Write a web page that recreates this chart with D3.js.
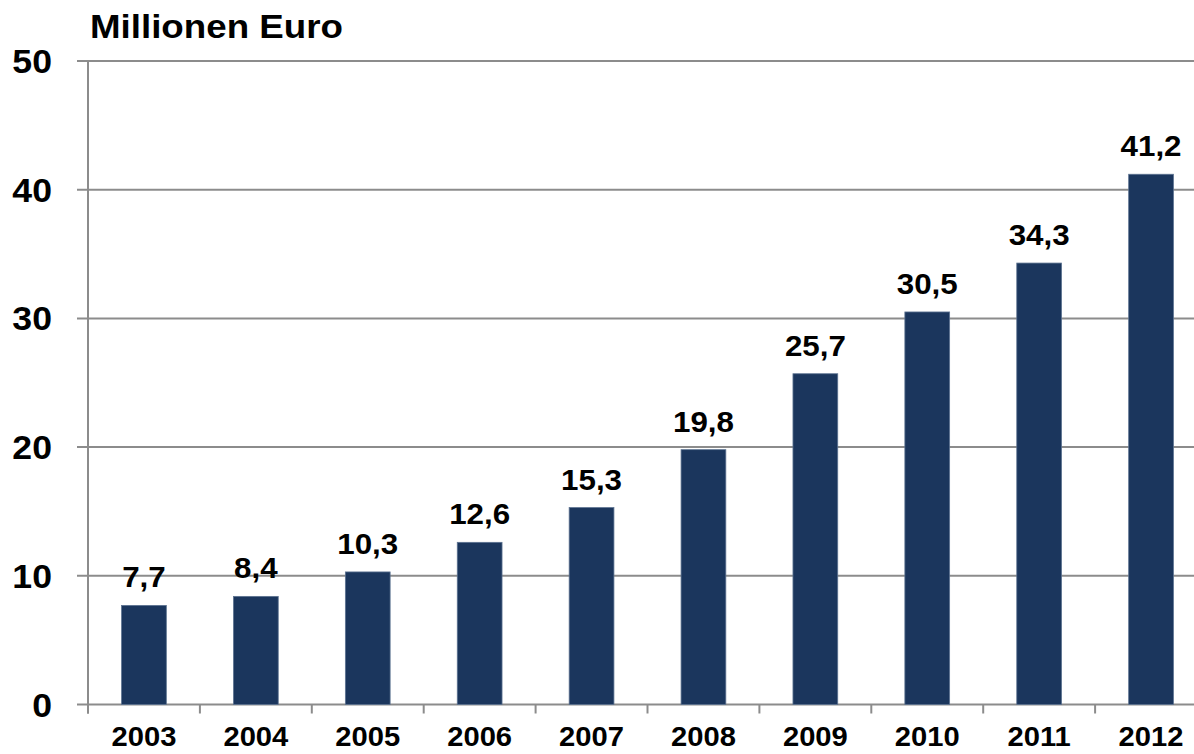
<!DOCTYPE html>
<html>
<head>
<meta charset="utf-8">
<script src="https://cdn.jsdelivr.net/npm/d3@7"></script>
<style>
  body { margin: 0; background: #fff; }
  svg { display: block; }
  text { font-family: "Liberation Sans", Arial, sans-serif; font-weight: bold; fill: #000; }
</style>
</head>
<body>
<div id="chart"></div>
<script>
// data
var years = ['2003', '2004', '2005', '2006', '2007', '2008', '2009', '2010', '2011', '2012'];
var values = [7.7, 8.4, 10.3, 12.6, 15.3, 19.8, 25.7, 30.5, 34.3, 41.2];
var yTicks = [0, 10, 20, 30, 40, 50];
var unitLabel = 'Millionen Euro';

(function () {
    var width = 1194, height = 754;
    var plotLeft = 88, plotTop = 61, plotBottom = 704.5, bandW = 111.9;
    var stretch = 1.08; // text in the original is slightly wider than tall
    var grey = '#8c8c8c';

    var svg = d3.select('#chart').append('svg')
        .attr('width', width)
        .attr('height', height);

    var x = d3.scaleBand()
        .domain(years)
        .range([plotLeft, plotLeft + bandW * years.length])
        .paddingInner(0.6)
        .paddingOuter(0.3);

    var y = d3.scaleLinear()
        .domain([0, 50])
        .range([plotBottom, plotTop]);

    var fmt = function (v) { return d3.format('.1f')(v).replace('.', ','); };

    // put a horizontally stretched label at (px, py)
    function label(g, px, py, txt, size, anchor) {
        return g.append('text')
            .attr('transform', 'translate(' + px + ',' + py + ') scale(' + stretch + ',1)')
            .attr('text-anchor', anchor)
            .style('font-size', size + 'px')
            .text(txt);
    }

    // gridlines + y ticks
    svg.append('g')
        .selectAll('line')
        .data(yTicks).enter()
        .append('line')
        .attr('x1', plotLeft - 11)
        .attr('x2', width)
        .attr('y1', function (d) { return y(d); })
        .attr('y2', function (d) { return y(d); })
        .attr('stroke', grey)
        .attr('stroke-width', 2);

    // y axis line
    svg.append('line')
        .attr('x1', plotLeft).attr('x2', plotLeft)
        .attr('y1', y(50)).attr('y2', y(0) + 9)
        .attr('stroke', grey)
        .attr('stroke-width', 2);

    // x ticks at category boundaries
    var bounds = years.map(function (d) { return x(d) - x.step() * x.paddingOuter(); });
    bounds.push(plotLeft + bandW * years.length);
    svg.append('g')
        .selectAll('line')
        .data(bounds).enter()
        .append('line')
        .attr('x1', function (d) { return d; })
        .attr('x2', function (d) { return d; })
        .attr('y1', y(0))
        .attr('y2', y(0) + 9)
        .attr('stroke', grey)
        .attr('stroke-width', 2);

    // bars
    svg.append('g')
        .selectAll('rect')
        .data(values).enter()
        .append('rect')
        .attr('x', function (d, i) { return x(years[i]); })
        .attr('width', x.bandwidth())
        .attr('y', function (d) { return y(d); })
        .attr('height', function (d) { return y(0) - y(d); })
        .attr('fill', '#1b365d')
        .attr('stroke', '#5d7391')
        .attr('stroke-width', 0.8);

    var labels = svg.append('g');

    // value labels
    values.forEach(function (v, i) {
        label(labels, x(years[i]) + x.bandwidth() / 2, y(v) - 18, fmt(v), 29, 'middle');
    });

    // category labels
    years.forEach(function (yr) {
        label(labels, x(yr) + x.bandwidth() / 2, 746, yr, 27, 'middle');
    });

    // y tick labels
    yTicks.forEach(function (t) {
        label(labels, 52, y(t) + 12, t, 33, 'end');
    });

    // unit title
    label(labels, 90, 38, unitLabel, 34, 'start');
})();
</script>
</body>
</html>
